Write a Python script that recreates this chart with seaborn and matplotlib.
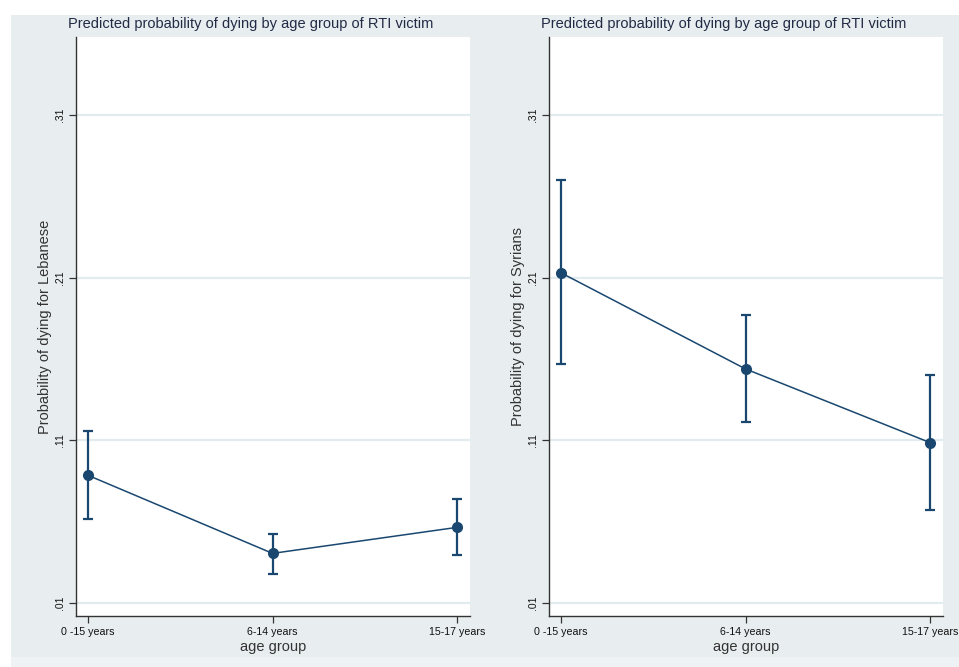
import matplotlib
matplotlib.use("Agg")
import matplotlib.pyplot as plt
import seaborn as sns
import pandas as pd
import numpy as np
from matplotlib.patches import Rectangle

# ---- data ----
age_groups = ["0 -15 years", "6-14 years", "15-17 years"]
leb_prob = [0.0885, 0.0405, 0.0565]
leb_lower = [0.0614, 0.0280, 0.0398]
leb_upper = [0.1160, 0.0522, 0.0737]
syr_prob = [0.2130, 0.1539, 0.1086]
syr_lower = [0.1567, 0.1215, 0.0670]
syr_upper = [0.2700, 0.1868, 0.1500]
y_ticks = [0.01, 0.11, 0.21, 0.31]
y_tick_labels = [".01", ".11", ".21", ".31"]
title_text = "Predicted probability of dying by age group of RTI victim"
ylabels = ["Probability of dying for Lebanese", "Probability of dying for Syrians"]

sns.set_style("white")
plt.rcParams["font.family"] = ["Liberation Sans", "DejaVu Sans"]

W, H = 959, 667
fig = plt.figure(figsize=(W / 100, H / 100), dpi=100, facecolor="white")

# outer Stata-like background
fig.patches.append(Rectangle((11 / W, (H - 657) / H), 1 - 11 / W, (657 - 15) / H,
                             transform=fig.transFigure, facecolor="#e8eef0",
                             edgecolor="none", zorder=-2))
fig.patches.append(Rectangle((11 / W, 0), 1 - 11 / W, (H - 657) / H,
                             transform=fig.transFigure, facecolor="#eef2f4",
                             edgecolor="none", zorder=-2))

navy = "#1a476f"
panels = [
    (76, 251, leb_prob, leb_lower, leb_upper, ylabels[0]),
    (549, 724, syr_prob, syr_lower, syr_upper, ylabels[1]),
]
ax_w = 394
top, bottom = 37, 616

for left, tcx, prob, lo, hi, ylab in panels:
    ax = fig.add_axes([left / W, 1 - bottom / H, ax_w / W, (bottom - top) / H])
    ax.set_zorder(2)
    ax.set_facecolor("white")
    xpos = np.arange(len(age_groups))
    df = pd.DataFrame({"x": xpos, "p": prob})
    for yt in y_ticks:
        ax.axhline(yt, color="#e2ecee", lw=1.6, zorder=0)
    prob_a = np.array(prob)
    yerr = np.vstack([prob_a - np.array(lo), np.array(hi) - prob_a])
    ax.errorbar(xpos, prob_a, yerr=yerr, fmt="none", ecolor=navy, elinewidth=1.6,
                capsize=3.6, capthick=1.6, zorder=2)
    sns.lineplot(data=df, x="x", y="p", ax=ax, color=navy, lw=1.1, marker="o",
                 markersize=8, markeredgewidth=0, zorder=3)
    ax.set_xlim(-0.065, 2.07)
    ax.set_ylim(0.002, 0.358)
    ax.set_xticks(xpos)
    ax.set_xticklabels(age_groups, fontsize=7.7, color="#111111")
    ax.set_yticks(y_ticks)
    ax.set_yticklabels(y_tick_labels, fontsize=7.5, rotation=90, va="center",
                       color="#111111")
    ax.tick_params(axis="both", direction="out", length=5, width=0.9,
                   color="#333333", pad=3, bottom=True, left=True)
    for s in ["top", "right"]:
        ax.spines[s].set_visible(False)
    for s in ["left", "bottom"]:
        ax.spines[s].set_color("#333333")
        ax.spines[s].set_linewidth(1.0)
    ax.set_xlabel("age group", fontsize=10.5, color="#333333", labelpad=2)
    ax.set_ylabel(ylab, fontsize=10.5, color="#333333", labelpad=2)
    fig.text(tcx / W, 1 - 24 / H, title_text, fontsize=10.5, color="#222a44",
             ha="center", va="center")

fig.savefig("out.png", dpi=100, facecolor=fig.get_facecolor())
